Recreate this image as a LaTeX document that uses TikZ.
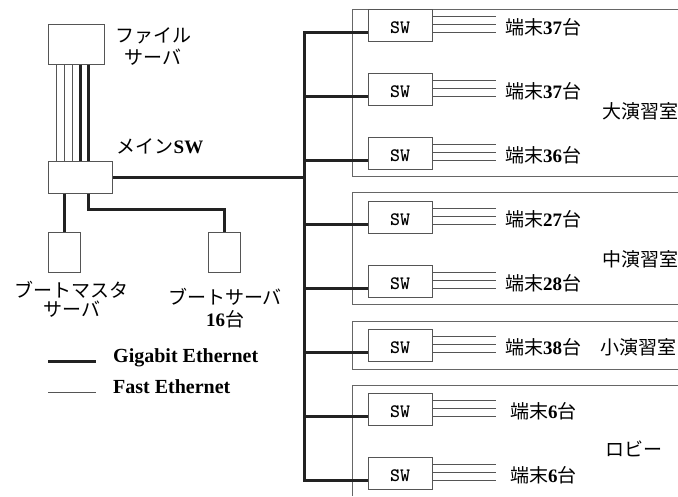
\documentclass[tikz,border=0pt]{standalone}
\usepackage{fontspec}
\setmainfont{Liberation Serif}
\newfontfamily\jpfont{Noto Sans CJK JP}
\newcommand\B[1]{{\rmfamily\bfseries #1}}
\definecolor{linedark}{HTML}{222222}
\definecolor{boxline}{HTML}{555555}
\definecolor{roomline}{HTML}{666666}
\definecolor{fastline}{HTML}{555555}
\begin{document}
\begin{tikzpicture}[x=1pt,y=-1pt,
  gig/.style={draw=linedark,line width=3pt},
  fast/.style={draw=fastline,line width=0.9pt},
  room/.style={draw=roomline,line width=1pt},
  box/.style={draw=boxline,line width=1pt,fill=white,inner sep=0pt},
  swbox/.style={box,minimum width=64pt,minimum height=32pt,font=\ttfamily\bfseries\fontsize{19}{19}\selectfont,text height=16pt,text depth=0pt},
  jp/.style={inner sep=0pt,align=center,font=\jpfont\fontsize{19}{22}\selectfont},
  leg/.style={inner sep=0pt,anchor=base west,font=\rmfamily\bfseries\fontsize{20}{22}\selectfont},
]
\fill[white] (0,0) rectangle (678,496);
\useasboundingbox (0,0) rectangle (678,496);

% rooms
\draw[room] (678,9) -- (352,9) -- (352,176) -- (678,176);
\draw[room] (678,192) -- (352,192) -- (352,304) -- (678,304);
\draw[room] (678,321) -- (352,321) -- (352,369) -- (678,369);
\draw[room] (678,385) -- (352,385) -- (352,496);

% left boxes
\node[box,minimum width=56pt,minimum height=40pt] (fs) at (76,44) {};
\node[box,minimum width=64pt,minimum height=32pt] (msw) at (80,177) {};
\node[box,minimum width=32pt,minimum height=40pt] (bms) at (64,252) {};
\node[box,minimum width=32pt,minimum height=40pt] (bs) at (224,252) {};

% file server to main SW
\foreach \x [count=\k] in {56,64,72,80,88} \coordinate (c\k) at (\x,0);
\foreach \k in {1,2,3} \draw[fast] (fs.south -| c\k) -- (msw.north -| c\k);
\foreach \k in {4,5} \draw[gig] (fs.south -| c\k) -- (msw.north -| c\k);

% main SW to boot servers
\draw[gig] (msw.south -| bms.north) -- (bms.north);
\coordinate (kb) at (88,209);
\draw[gig] (msw.south -| kb) -- (kb) -| (bs.north);

% labels left
\node[jp] (fsl) at (153,46) {ファイル\\サーバ};
\node[jp] (mswl) at (160,146) {メイン\B{SW}};
\node[jp,font=\jpfont\fontsize{19}{19}\selectfont] (bmsl) at (72,299) {ブートマスタ\\サーバ};
\node[jp] (bsl) at (225,308) {ブートサーバ\\\B{16}台};

% legend
\coordinate (lg1a) at (48,361); \coordinate (lg1b) at (96,361);
\coordinate (lg2a) at (48,392); \coordinate (lg2b) at (96,392);
\draw[gig] (lg1a) -- (lg1b);
\draw[fast] (lg2a) -- (lg2b);
\node[leg] (lg1t) at (113,362) {Gigabit Ethernet};
\node[leg] (lg2t) at (113,393) {Fast Ethernet};

% switches and terminals
\foreach \i/\n/\tx in {1/37/505,2/37/505,3/36/505,4/27/505,5/28/505,6/38/505,7/6/510,8/6/510} {
  \pgfmathsetmacro\cy{25+64*(\i-1)}
  \node[swbox] (sw\i) at (400,\cy) {SW};
  \coordinate (b\i) at (304,\cy+7);
  \coordinate (e\i) at (496,\cy);
  \node[jp,anchor=west] (t\i) at (\tx,\cy+2) {端末\B{\n}台};
  \draw[fast] ([yshift=8.5pt]sw\i.east) -- ([yshift=8.5pt]e\i);
  \draw[fast] ([yshift=0.8pt]sw\i.east) -- ([yshift=0.8pt]e\i);
  \draw[fast] ([yshift=-7pt]sw\i.east) -- ([yshift=-7pt]e\i);
}

% backbone
\coordinate (bm) at (304,177);
\draw[gig] (msw.east) -- (bm);
\draw[gig] (b1 -| sw1.west) -- (b1) -- (b8) -- (b8 -| sw8.west);
\foreach \i in {2,...,7} \draw[gig] (b\i) -- (b\i -| sw\i.west);

% room labels
\node[jp,anchor=west] (r1) at (602,111) {大演習室};
\node[jp,anchor=west] (r2) at (602,259) {中演習室};
\node[jp,anchor=west] (r3) at (600,347) {小演習室};
\node[jp,anchor=west] (r4) at (605,449) {ロビー};
\end{tikzpicture}
\end{document}
